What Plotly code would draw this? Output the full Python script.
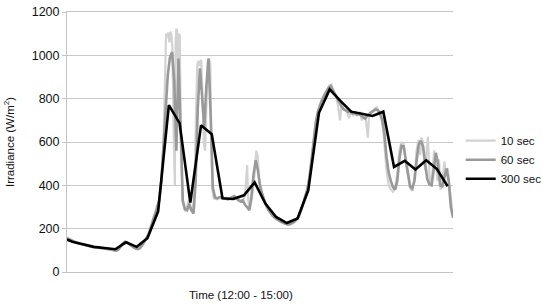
import plotly.graph_objects as go

# time in minutes after 12:00
t300 = [0, 2.5, 7.5, 12.5, 17.5, 22.5, 27.5, 32.5, 37.5, 42.5, 47.5, 52.5, 57.5, 62.5, 67.5,
        72.5, 77.5, 82.5, 87.5, 92.5, 97.5, 102.5, 107.5, 112.5, 117.5, 122.5, 127.5, 132.5,
        137.5, 142.5, 147.5, 152.5, 157.5, 162.5, 167.5, 172.5, 177.5]
v300 = [150, 140, 128, 116, 111, 105, 137, 116, 156, 280, 770, 687, 320, 677, 636,
        340, 337, 354, 414, 316, 254, 226, 247, 377, 735, 843, 790, 740,
        730, 720, 740, 485, 513, 473, 516, 475, 396]

t60 = list(range(0, 181))
v60 = [155, 150, 145, 140, 137, 133, 130, 127, 124, 121,
       118, 116, 115, 114, 113, 112, 111, 110, 109, 108,
       106, 103, 100, 99, 104, 118, 132, 140, 136, 128,
       120, 113, 108, 106, 110, 122, 138, 155, 175, 205,
       235, 265, 290, 330, 420, 580, 760, 910, 990, 1015,
       880, 560, 985, 620, 330, 290, 285, 315, 285, 270,
       420, 760, 940, 810, 670, 860, 985, 720, 390, 345,
       340, 345, 345, 340, 338, 335, 340, 345, 350, 340,
       330, 325, 331, 310, 300, 285, 350, 450, 516, 470,
       400, 360, 330, 305, 285, 270, 258, 250, 242, 236,
       230, 226, 222, 220, 221, 226, 232, 242, 255, 280,
       310, 345, 380, 430, 510, 610, 690, 740, 770, 795,
       815, 835, 850, 858, 840, 820, 800, 780, 765, 752,
       745, 738, 742, 732, 736, 726, 730, 722, 716, 708,
       720, 730, 738, 745, 750, 746, 730, 700, 640, 530,
       460, 420, 392, 380, 420, 520, 582, 580, 520, 440,
       395, 385, 420, 510, 590, 605, 580, 500, 430, 405,
       400, 470, 550, 500, 400, 395, 440, 478, 420, 300,
       250]

t10 = [0, 2, 4, 6, 8, 10, 12, 14, 16, 18, 20, 22, 24, 26, 28, 30, 32, 34, 36, 38, 40, 42, 43, 44,
       45, 45.7, 46.2, 46.7, 47.2, 47.7, 48.2, 48.7, 49.2, 49.6, 50, 50.3, 50.6, 51, 51.4, 51.8,
       52.2, 52.6, 53, 53.4, 53.8, 54.5, 55.2, 56, 56.8, 57.5, 58.3, 59, 59.6, 60.2, 60.8, 61.4,
       62, 62.6, 63.2, 63.8, 64.4, 65, 65.6, 66.2, 66.8, 67.3, 67.8, 68.5, 70, 72, 74, 76, 78, 80,
       82, 83, 84, 84.5, 85.3, 86.3, 87.3, 88.3, 89, 89.6, 90.5, 92, 94, 96, 98, 100, 102, 104,
       106, 108, 110, 112, 114, 116, 118, 119.5, 121, 122.3, 123.3, 124.3, 125.5, 126.5, 127.3,
       128, 129, 130.5, 131.5, 132.5, 133.5, 134.5, 135.5, 136.5, 137.5, 138.5, 139.3, 140.3,
       140.8, 141.5, 142.5, 143.5, 144.5, 145.5, 146.5, 147.5, 148.3, 149, 150, 151, 152, 153,
       154, 155, 156, 157, 158, 159, 160, 161, 162, 163, 164, 164.7, 165.3, 166, 167, 167.7,
       168.3, 169, 169.7, 170.5, 171.2, 172, 172.8, 173.5, 174.2, 175, 176, 176.8, 177.5, 178.3,
       179, 180]
v10 = [160, 148, 138, 130, 124, 118, 115, 113, 111, 109, 106, 100, 103, 130, 138, 120, 108, 110,
       137, 172, 232, 288, 330, 420,
       600, 900, 1100, 1085, 1105, 1060, 1110, 1095, 1020, 700, 410, 400, 1050, 1124, 1110, 900,
       1100, 1090, 700, 420, 330, 300, 280, 300, 330, 290, 280, 320, 450, 750, 960, 975,
       950, 980, 820, 600, 560, 750, 970, 985, 960, 600, 380, 340, 335, 345, 340, 335, 350, 335,
       330, 350, 493, 330, 290, 340, 440, 560, 530, 420, 380, 330, 290, 260, 242, 232, 222, 220,
       230, 255, 305, 378, 505, 690, 775, 810, 840, 860, 865, 835, 810, 760, 700,
       770, 750, 745, 710, 745, 720, 740, 725, 735, 700, 720, 705, 620,
       720, 735, 740, 755, 760, 740, 720, 650, 540, 470, 400, 380, 370, 390,
       450, 560, 600, 590, 500, 430, 385, 375, 430, 560, 610, 540, 620, 600, 470, 560,
       624, 450, 400, 470, 562, 500, 420, 520, 380, 420, 510, 440, 480, 400,
       330, 260]

fig = go.Figure()
fig.add_trace(go.Scatter(x=t10, y=v10, mode='lines', name='10 sec',
                         line=dict(color='#d2d2d2', width=2.2)))
fig.add_trace(go.Scatter(x=t60, y=v60, mode='lines', name='60 sec',
                         line=dict(color='#999999', width=2.6)))
fig.add_trace(go.Scatter(x=t300, y=v300, mode='lines', name='300 sec',
                         line=dict(color='#000000', width=2.6)))

fig.update_layout(
    width=550, height=306,
    margin=dict(l=67, r=97, t=12, b=34, autoexpand=False),
    paper_bgcolor='white', plot_bgcolor='white',
    font=dict(family='Liberation Sans, Arial, sans-serif', size=12.5, color='#111111'),
    showlegend=True,
    legend=dict(x=1.02, xanchor='left', y=0.432, yanchor='middle',
                font=dict(size=11.5), bgcolor='rgba(0,0,0,0)', tracegroupgap=0),
    xaxis=dict(range=[0, 180], showticklabels=False, showgrid=False, zeroline=False,
               showline=True, linecolor='#c4c4c4', linewidth=1, mirror=True, ticks=''),
    yaxis=dict(range=[0, 1200], dtick=200, showgrid=True, gridcolor='#c8c8c8', gridwidth=1,
               zeroline=False, showline=True, linecolor='#c4c4c4', linewidth=1,
               ticks='outside', ticklen=4, tickcolor='#c4c4c4',
               title=dict(text='Irradiance (W/m<sup>2</sup>)', standoff=14,
                          font=dict(size=11.5))),
    annotations=[dict(text='Time (12:00 - 15:00)', xref='paper', yref='paper',
                      x=0.45, y=-0.09, xanchor='center', yanchor='middle',
                      showarrow=False, font=dict(size=11.5))],
)

# the page's default body margin would shift the chart by 8px
fig.write_html("out.html", config={'displayModeBar': False},
               post_script="document.body.style.margin='0';")
